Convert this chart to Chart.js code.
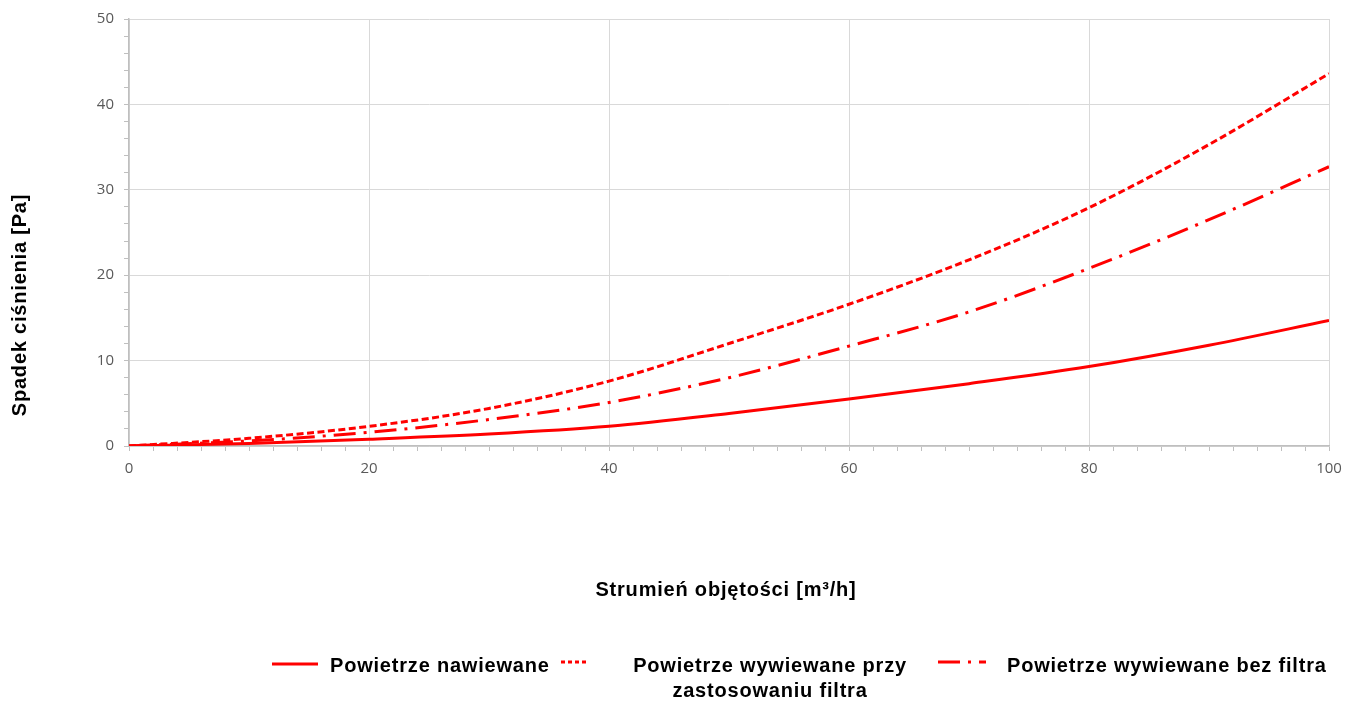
<!DOCTYPE html>
<html>
<head>
<meta charset="utf-8">
<script src="https://cdn.jsdelivr.net/npm/chart.js@4/dist/chart.umd.min.js"></script>
<style>
html,body{margin:0;padding:0;background:#fff;}
#wrap{width:1352px;height:702px;position:relative;}
</style>
</head>
<body>
<div id="wrap"><canvas id="c" width="1352" height="702"></canvas></div>
<script>
const xValues = [0, 10, 20, 30, 40, 50, 60, 70, 80, 90, 100];
const supplyAir = [0, 0.3, 0.8, 1.4, 2.3, 3.8, 5.5, 7.3, 9.3, 11.8, 14.7];
const exhaustWithFilter = [0, 0.9, 2.3, 4.4, 7.6, 12.0, 16.6, 21.8, 27.9, 35.3, 43.6];
const exhaustNoFilter = [0, 0.6, 1.6, 3.1, 5.1, 8.0, 11.7, 15.7, 20.8, 26.5, 32.7];
const seriesLabels = ['Powietrze nawiewane', ['Powietrze wywiewane przy', 'zastosowaniu filtra'], 'Powietrze wywiewane bez filtra'];
const xTitle = 'Strumień objętości [m³/h]';
const yTitle = 'Spadek ciśnienia [Pa]';

const RED = '#ff0000';
const dashes = [[], [7, 3.5], [22, 8, 3, 8]];
const toPts = arr => xValues.map((x, i) => ({x: x, y: arr[i]}));

const labelFont = 'bold 20px "Liberation Sans", Arial, sans-serif';

const customPlugin = {
  id: 'custom',
  afterDraw(chart) {
    const ctx = chart.ctx;
    ctx.save();
    ctx.fillStyle = '#000';
    ctx.font = labelFont;
    ctx.letterSpacing = '0.8px';
    ctx.save();
    ctx.translate(20, 305);
    ctx.rotate(-Math.PI / 2);
    ctx.textAlign = 'center';
    ctx.textBaseline = 'middle';
    ctx.fillText(yTitle, 0, 0);
    ctx.restore();
    ctx.textAlign = 'center';
    ctx.textBaseline = 'middle';
    ctx.fillText(xTitle, 726, 590);
    const items = [
      {x1: 272, x2: 318, ly: 664, tx: 330, align: 'left', dash: []},
      {x1: 561, x2: 587, ly: 662, tx: 770, align: 'center', dash: [4, 3]},
      {x1: 938, x2: 986, ly: 662, tx: 1007, align: 'left', dash: [22, 8, 3, 8]}
    ];
    chart.data.datasets.forEach((ds, i) => {
      const it = items[i];
      ctx.save();
      ctx.strokeStyle = ds.borderColor;
      ctx.lineWidth = 3;
      ctx.setLineDash(it.dash);
      ctx.beginPath();
      ctx.moveTo(it.x1, it.ly);
      ctx.lineTo(it.x2, it.ly);
      ctx.stroke();
      ctx.restore();
      ctx.textAlign = it.align;
      const lines = Array.isArray(seriesLabels[i]) ? seriesLabels[i] : [seriesLabels[i]];
      lines.forEach((t, k) => ctx.fillText(t, it.tx, 666 + k * 25));
    });
    ctx.restore();
  }
};

new Chart(document.getElementById('c'), {
  type: 'line',
  data: {
    datasets: [supplyAir, exhaustWithFilter, exhaustNoFilter].map((arr, i) => ({
      label: Array.isArray(seriesLabels[i]) ? seriesLabels[i].join(' ') : seriesLabels[i],
      data: toPts(arr),
      borderColor: RED,
      backgroundColor: RED,
      borderWidth: 3,
      borderDash: dashes[i],
      pointRadius: 0,
      cubicInterpolationMode: 'monotone',
      fill: false
    }))
  },
  options: {
    responsive: false,
    animation: false,
    layout: {padding: {top: 18, right: 23, left: 0, bottom: 0}},
    plugins: {legend: {display: false}, tooltip: {enabled: false}},
    scales: {
      x: {
        type: 'linear', min: 0, max: 100,
        afterFit(s) { s.height = 256; },
        ticks: {
          stepSize: 2, autoSkip: false, maxRotation: 0,
          color: '#595959', font: {family: '"Open Sans", sans-serif', size: 15}, padding: 9,
          callback: v => (v % 20 === 0 ? String(v) : '')
        },
        grid: {
          color: c => (c.tick && c.tick.value % 20 === 0 ? '#d9d9d9' : 'rgba(0,0,0,0)'),
          tickColor: '#bfbfbf', tickLength: 5, lineWidth: 1
        },
        border: {color: '#bfbfbf', width: 1.5}
      },
      y: {
        type: 'linear', min: 0, max: 50,
        afterFit(s) { s.width = 129; },
        ticks: {
          stepSize: 2, autoSkip: false,
          color: '#595959', font: {family: '"Open Sans", sans-serif', size: 15}, padding: 10,
          callback: v => (v % 10 === 0 ? String(v) : '')
        },
        grid: {
          color: c => (c.tick && c.tick.value % 10 === 0 ? '#d9d9d9' : 'rgba(0,0,0,0)'),
          tickColor: '#bfbfbf', tickLength: 5, lineWidth: 1
        },
        border: {color: '#bfbfbf', width: 1.5}
      }
    }
  },
  plugins: [customPlugin]
});
</script>
</body>
</html>
